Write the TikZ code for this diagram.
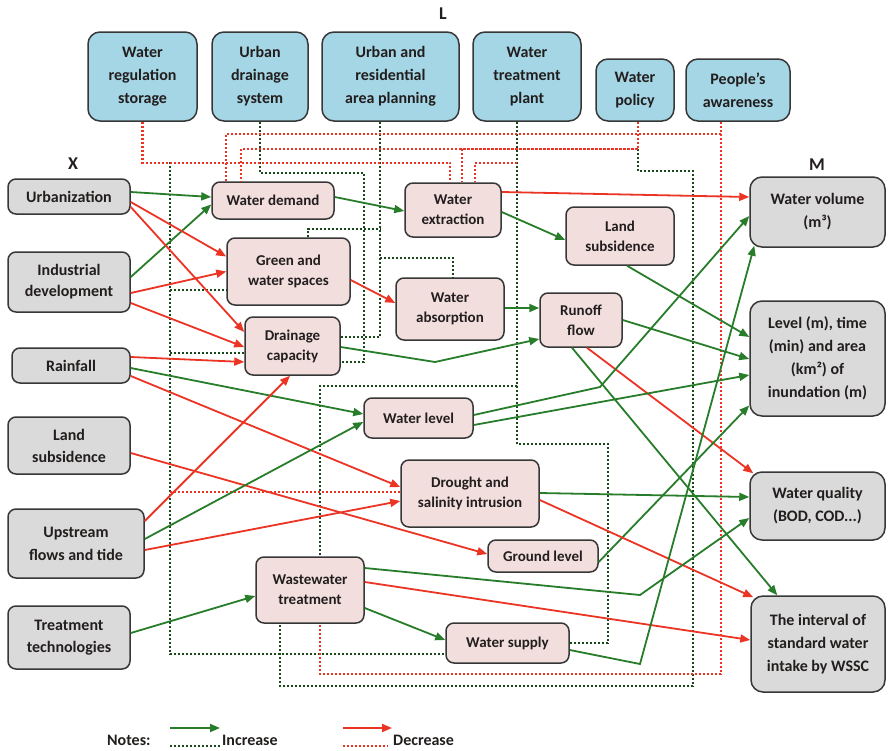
\documentclass[tikz,border=0pt]{standalone}
\usepackage{fontspec}
\setmainfont{Carlito}
\usetikzlibrary{arrows.meta,calc}
\definecolor{gline}{RGB}{40,125,42}
\definecolor{rline}{RGB}{236,52,36}
\definecolor{gdotc}{RGB}{24,72,24}
\definecolor{lblue}{RGB}{164,214,230}
\definecolor{pinkc}{RGB}{243,222,222}
\definecolor{xgrey}{RGB}{218,218,218}
\definecolor{boxborder}{RGB}{55,55,55}
\definecolor{textc}{RGB}{35,30,30}
\tikzset{
  box/.style={draw=boxborder, line width=1.5pt, rounded corners=8pt, align=center,
    text=textc, inner sep=0pt, font=\bfseries\fontsize{16}{23}\selectfont},
  lbox/.style={box, fill=lblue, rounded corners=12pt},
  xbox/.style={box, fill=xgrey},
  mbox/.style={box, fill=xgrey, rounded corners=12pt},
  pbox/.style={box, fill=pinkc, font=\bfseries\fontsize{15}{20}\selectfont},
  head/.style={text=textc, font=\bfseries\fontsize{18}{20}\selectfont},
  ltext/.style={text=textc, font=\bfseries\fontsize{16}{18}\selectfont, anchor=base west, inner sep=0pt},
  garrow/.style={draw=gline, line width=1.8pt, -{Triangle[length=10pt,width=8pt]}},
  rarrow/.style={draw=rline, line width=1.8pt, -{Triangle[length=10pt,width=8pt]}},
  gdot/.style={draw=gdotc, line width=2.3pt, dash pattern=on 2pt off 2pt},
  rdot/.style={draw=rline, line width=2.3pt, dash pattern=on 2pt off 2pt}
}
\begin{document}
\begin{tikzpicture}[x=1pt,y=-1pt]
\useasboundingbox[fill=white] (0,0) rectangle (889,750);

% headings
\node[head] (Lh) at (443,14) {L};
\node[head] (Xh) at (73,164) {X};
\node[head] (Mh) at (817,165) {M};

% L boxes
\node[lbox, minimum width=109, minimum height=89] (wrs) at (142.5,76.5) {Water\\regulation\\storage};
\node[lbox, minimum width=96, minimum height=89] (uds) at (260,76.5) {Urban\\drainage\\system};
\node[lbox, minimum width=137, minimum height=89] (urp) at (390.5,76.5) {Urban and\\residential\\area planning};
\node[lbox, minimum width=108, minimum height=89] (wtp) at (527,76.5) {Water\\treatment\\plant};
\node[lbox, minimum width=78, minimum height=62] (wp) at (635,90) {Water\\policy};
\node[lbox, minimum width=104, minimum height=62] (pa) at (738,90) {People’s\\awareness};

% X boxes
\node[xbox, minimum width=122, minimum height=35] (urb) at (69,196.5) {Urbanization};
\node[xbox, minimum width=122, minimum height=60, font=\bfseries\fontsize{16}{21}\selectfont] (ind) at (69,282) {Industrial\\development};
\node[xbox, minimum width=118, minimum height=35] (rain) at (71,365.5) {Rainfall};
\node[xbox, minimum width=122, minimum height=57, font=\bfseries\fontsize{16}{22}\selectfont] (ls) at (69,445.5) {Land\\subsidence};
\node[xbox, minimum width=136, minimum height=69] (up) at (76,543.5) {Upstream\\flows and tide};
\node[xbox, minimum width=122, minimum height=63, font=\bfseries\fontsize{16}{22}\selectfont] (tt) at (69,637.5) {Treatment\\technologies};

% M boxes
\node[mbox, minimum width=135, minimum height=70] (wv) at (817.5,212) {Water volume\\(m³)};
\node[mbox, minimum width=135, minimum height=115] (lev) at (817.5,358.5) {Level (m), time\\(min) and area\\(km²) of\\inundation (m)};
\node[mbox, minimum width=135, minimum height=68] (wq) at (817.5,506) {Water quality\\(BOD, COD...)};
\node[mbox, minimum width=134, minimum height=96] (wssc) at (818,644) {The interval of\\standard water\\intake by WSSC};

% pink boxes
\node[pbox, minimum width=122, minimum height=37] (wd) at (273,200.5) {Water demand};
\node[pbox, minimum width=96, minimum height=54] (we) at (453,210) {Water\\extraction};
\node[pbox, minimum width=108, minimum height=58] (lsub) at (620,236) {Land\\subsidence};
\node[pbox, minimum width=123, minimum height=67] (gws) at (288.5,271.5) {Green and\\water spaces};
\node[pbox, minimum width=108, minimum height=62] (wa) at (450,309) {Water\\absorption};
\node[pbox, minimum width=95, minimum height=58] (dc) at (292.5,346) {Drainage\\capacity};
\node[pbox, minimum width=82, minimum height=54] (rf) at (581,320) {Runoff\\flow};
\node[pbox, minimum width=109, minimum height=40] (wl) at (418.5,418) {Water level};
\node[pbox, minimum width=138, minimum height=67] (dsi) at (470,493.5) {Drought and\\salinity intrusion};
\node[pbox, minimum width=110, minimum height=32] (gl) at (543,556) {Ground level};
\node[pbox, minimum width=108, minimum height=66] (wwt) at (310,590) {Wastewater\\treatment};
\node[pbox, minimum width=123, minimum height=40] (ws) at (507.5,643) {Water supply};

% ---------- dotted links ----------
\coordinate (s170) at (170,162);
\coordinate (urpS) at ($(urp.south)+(-10.5,0)$);
\coordinate (wtpS) at ($(wtp.south)+(-10,0)$);
\coordinate (paS) at ($(pa.south)+(-17,0)$);
\coordinate (wpS) at ($(wp.south)+(3,0)$);
\coordinate (gwsL) at ($(gws.west)+(0,18.5)$);
\coordinate (dcL) at ($(dc.west)+(0,7)$);
\coordinate (dsiL) at ($(dsi.west)+(0,-1.5)$);

% green dotted
\draw[gdot] (s170) |- ($(ws.west)+(0,11)$);
\draw[gdot] (s170 |- gwsL) -- (gwsL);
\draw[gdot] (s170 |- dcL) -- (dcL);
\draw[gdot] (uds.south) -- ++(0,51) -| ($(dc.east)+(23,16)$) -- ($(dc.east)+(0,16)$);
\draw[gdot] (urpS) |- ($(dc.east)+(0,-9)$);
\draw[gdot] ($(gws.north)+(19.5,0)$) |- ($(urpS)+(0,107)$);
\draw[gdot] ($(urpS)+(0,136)$) -| ($(wa.north)+(3,0)$);
\draw[gdot] (wtpS) -- ++(0,264) -| ($(wwt.north)+(10,0)$);
\draw[gdot] ($(wtpS)+(0,264)$) -- ++(0,58) -| ($(ws.east)+(38,0)$) -- (ws.east);
\draw[gdot] ($(wpS)+(0,27)$) -- ++(0,22) -| ($(wpS)+(55,564)$) -| ($(wwt.south)+(-30,0)$);

% red dotted
\draw[rdot] (wrs.south) -- ++(0,41) -| ($(we.north)+(-3,0)$);
\draw[rdot] (s170 |- dsiL) -- (dsiL);
\draw[rdot] (paS) -- ++(0,12) -| ($(wd.north west)+(15,0)$);
\draw[rdot] (paS) -- ++(0,552) -| ($(wwt.south)+(10,0)$);
\draw[rdot] (wpS) -- ++(0,27) -| ($(wd.north west)+(30,0)$);
\draw[rdot] ($(wpS)+(0,27)$) -| ($(we.north)+(9,0)$);
\draw[rdot] ($(wtpS)+(0,41)$) -| ($(we.north)+(22,0)$);

% ---------- solid links ----------
\coordinate (b1) at (435,362);
\coordinate (b2) at (600,387);
\coordinate (b3) at (640,595);
\coordinate (b4) at (640,664);

\draw[garrow] ($(urb.east)+(0,-4.5)$) -- ($(wd.west)+(0,-3.5)$);
\draw[garrow] ($(ind.east)+(0,-5)$) -- ($(wd.west)+(0,4)$);
\draw[rarrow] ($(urb.east)+(0,5.5)$) -- ($(gws.west)+(0,-15)$);
\draw[rarrow] ($(urb.east)+(0,10.5)$) -- ($(dc.west)+(0,-14)$);
\draw[rarrow] ($(ind.east)+(0,11)$) -- ($(gws.west)+(0,0)$);
\draw[rarrow] ($(ind.east)+(0,21)$) -- ($(dc.west)+(0,1)$);
\draw[rarrow] ($(rain.east)+(0,-8.5)$) -- ($(dc.west)+(0,16)$);
\draw[garrow] ($(rain.east)+(0,2.5)$) -- ($(wl.west)+(0,-4)$);
\draw[rarrow] ($(rain.east)+(0,10.5)$) -- ($(dsi.west)+(0,-6.5)$);
\draw[rarrow] ($(ls.east)+(0,7.5)$) -- ($(gl.west)+(0,-2)$);
\draw[rarrow] ($(up.east)+(0,-22.5)$) -- ($(dc.south)+(-2.5,0)$);
\draw[garrow] ($(up.east)+(0,-4.5)$) -- ($(wl.west)+(0,4)$);
\draw[rarrow] ($(up.east)+(0,6.5)$) -- ($(dsi.west)+(0,7.5)$);
\draw[garrow] ($(tt.east)+(0,-4.5)$) -- ($(wwt.west)+(0,6)$);
\draw[garrow] ($(wd.east)+(0,-3.5)$) -- ($(we.west)+(0,1)$);
\draw[rarrow] ($(we.east)+(0,-18)$) -- ($(wv.west)+(0,-15)$);
\draw[garrow] ($(we.east)+(0,2)$) -- ($(lsub.west)+(0,4)$);
\draw[rarrow] ($(gws.east)+(0,8.5)$) -- ($(wa.west)+(0,-6)$);
\draw[garrow] ($(wa.east)+(0,-1)$) -- ($(rf.west)+(0,-12)$);
\draw[garrow] ($(dc.east)+(0,1)$) -- (b1) -- ($(rf.west)+(0,19)$);
\draw[garrow] (rf.east) -- ($(lev.west)+(0,0.5)$);
\draw[rarrow] ($(rf.south)+(6,0)$) -- ($(wq.north west)+(4,2)$);
\draw[garrow] ($(rf.south)+(-9,0)$) -- ($(wssc.north west)+(27,0)$);
\draw[garrow] ($(lsub.south)+(7,0)$) -- ($(lev.west)+(0,-21.5)$);
\draw[garrow] ($(wl.east)+(0,-3)$) -- (b2) -- ($(wv.west)+(0,4)$);
\draw[garrow] ($(wl.east)+(0,7)$) -- ($(lev.west)+(0,16.5)$);
\draw[garrow] ($(gl.east)+(0,6)$) -- ($(lev.west)+(0,47)$);
\draw[garrow] ($(dsi.east)+(0,-0.5)$) -- ($(wq.west)+(0,-9)$);
\draw[rarrow] ($(dsi.east)+(0,6.5)$) -- ($(wssc.north west)+(3,2)$);
\draw[garrow] ($(wwt.east)+(0,-22)$) -- (b3) -- ($(wq.west)+(0,12)$);
\draw[rarrow] ($(wwt.east)+(0,-8)$) -- ($(wssc.west)+(0,-4)$);
\draw[garrow] ($(wwt.east)+(0,18)$) -- ($(ws.west)+(0,-3)$);
\draw[garrow] ($(ws.east)+(0,7)$) -- (b4) -- ($(wv.south west)+(5,-2)$);

% ---------- legend ----------
\node[ltext] (notes) at (107,745) {Notes:};
\coordinate (ga1) at (170,728); \coordinate (ga2) at (220,728);
\coordinate (gd1) at (170,746); \coordinate (gd2) at (220,746);
\draw[garrow] (ga1) -- (ga2);
\draw[gdot] (gd1) -- (gd2);
\node[ltext] (inc) at (222,745) {Increase};
\coordinate (ra1) at (343,728); \coordinate (ra2) at (392,728);
\coordinate (rd1) at (343,746); \coordinate (rd2) at (388,746);
\draw[rarrow] (ra1) -- (ra2);
\draw[rdot] (rd1) -- (rd2);
\node[ltext] (dec) at (393,745) {Decrease};
\end{tikzpicture}
\end{document}
